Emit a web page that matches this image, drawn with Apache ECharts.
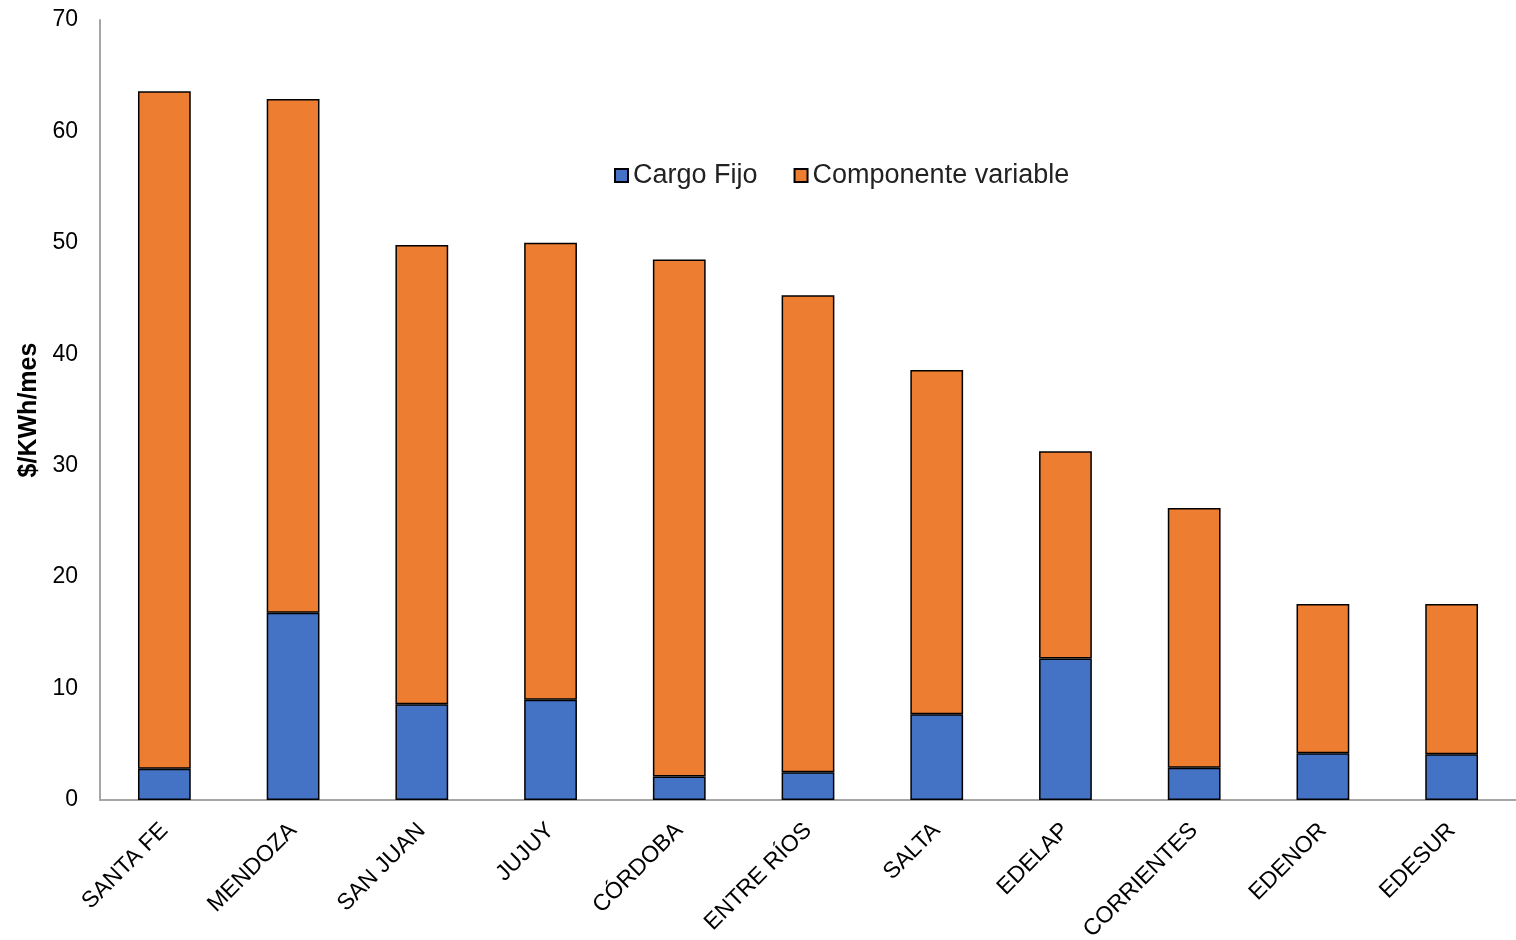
<!DOCTYPE html>
<html>
<head>
<meta charset="utf-8">
<script src="https://cdn.jsdelivr.net/npm/echarts@6/dist/echarts.min.js"></script>
<style>html,body{margin:0;padding:0;background:#fff}#c{width:1516px;height:940px}</style>
</head>
<body>
<div id="c"></div>
<script>
var categories = ['SANTA FE','MENDOZA','SAN JUAN','JUJUY','CÓRDOBA','ENTRE RÍOS','SALTA','EDELAP','CORRIENTES','EDENOR','EDESUR'];
var cargoFijo = [2.8, 16.8, 8.6, 9.0, 2.1, 2.5, 7.7, 12.7, 2.9, 4.2, 4.1];
var componenteVariable = [60.8, 46.1, 41.2, 41.0, 46.4, 42.8, 30.9, 18.6, 23.3, 13.4, 13.5];
var yTicks = [0, 10, 20, 30, 40, 50, 60, 70];

var chart = echarts.init(document.getElementById('c'));
var font = 'Liberation Sans, Arial, sans-serif';
chart.setOption({
  animation: false,
  textStyle: {fontFamily: font},
  grid: {left: 100, right: 0, top: 20, bottom: 140, containLabel: false, outerBoundsMode: 'none'},
  legend: {
    left: 609, top: 157,
    itemWidth: 13, itemHeight: 13, itemGap: 36,
    icon: 'rect',
    textStyle: {fontSize: 27, color: '#222', fontFamily: font},
    data: ['Cargo Fijo', 'Componente variable']
  },
  xAxis: {
    type: 'category',
    data: categories,
    axisLine: {lineStyle: {color: '#a6a6a6', width: 2}},
    axisTick: {show: false},
    axisLabel: {rotate: 45, fontSize: 23, color: '#000', margin: 27, fontFamily: font, interval: 0}
  },
  yAxis: {
    type: 'value', min: yTicks[0], max: yTicks[yTicks.length-1], interval: 10,
    name: '$/KWh/mes', nameLocation: 'middle', nameGap: 55,
    nameTextStyle: {fontSize: 25, fontWeight: 'bold', color: '#000', fontFamily: font},
    axisLine: {show: true, lineStyle: {color: '#a6a6a6', width: 2}},
    axisTick: {show: false},
    splitLine: {show: false},
    axisLabel: {fontSize: 23, color: '#000', margin: 22, fontFamily: font}
  },
  series: [
    {name: 'Cargo Fijo', type: 'bar', stack: 't', data: cargoFijo, barWidth: '41%',
     itemStyle: {color: '#4472c4', borderColor: '#000', borderWidth: 1.5}},
    {name: 'Componente variable', type: 'bar', stack: 't', data: componenteVariable, barWidth: '41%',
     itemStyle: {color: '#ed7d31', borderColor: '#000', borderWidth: 1.5}}
  ]
});
</script>
</body>
</html>
